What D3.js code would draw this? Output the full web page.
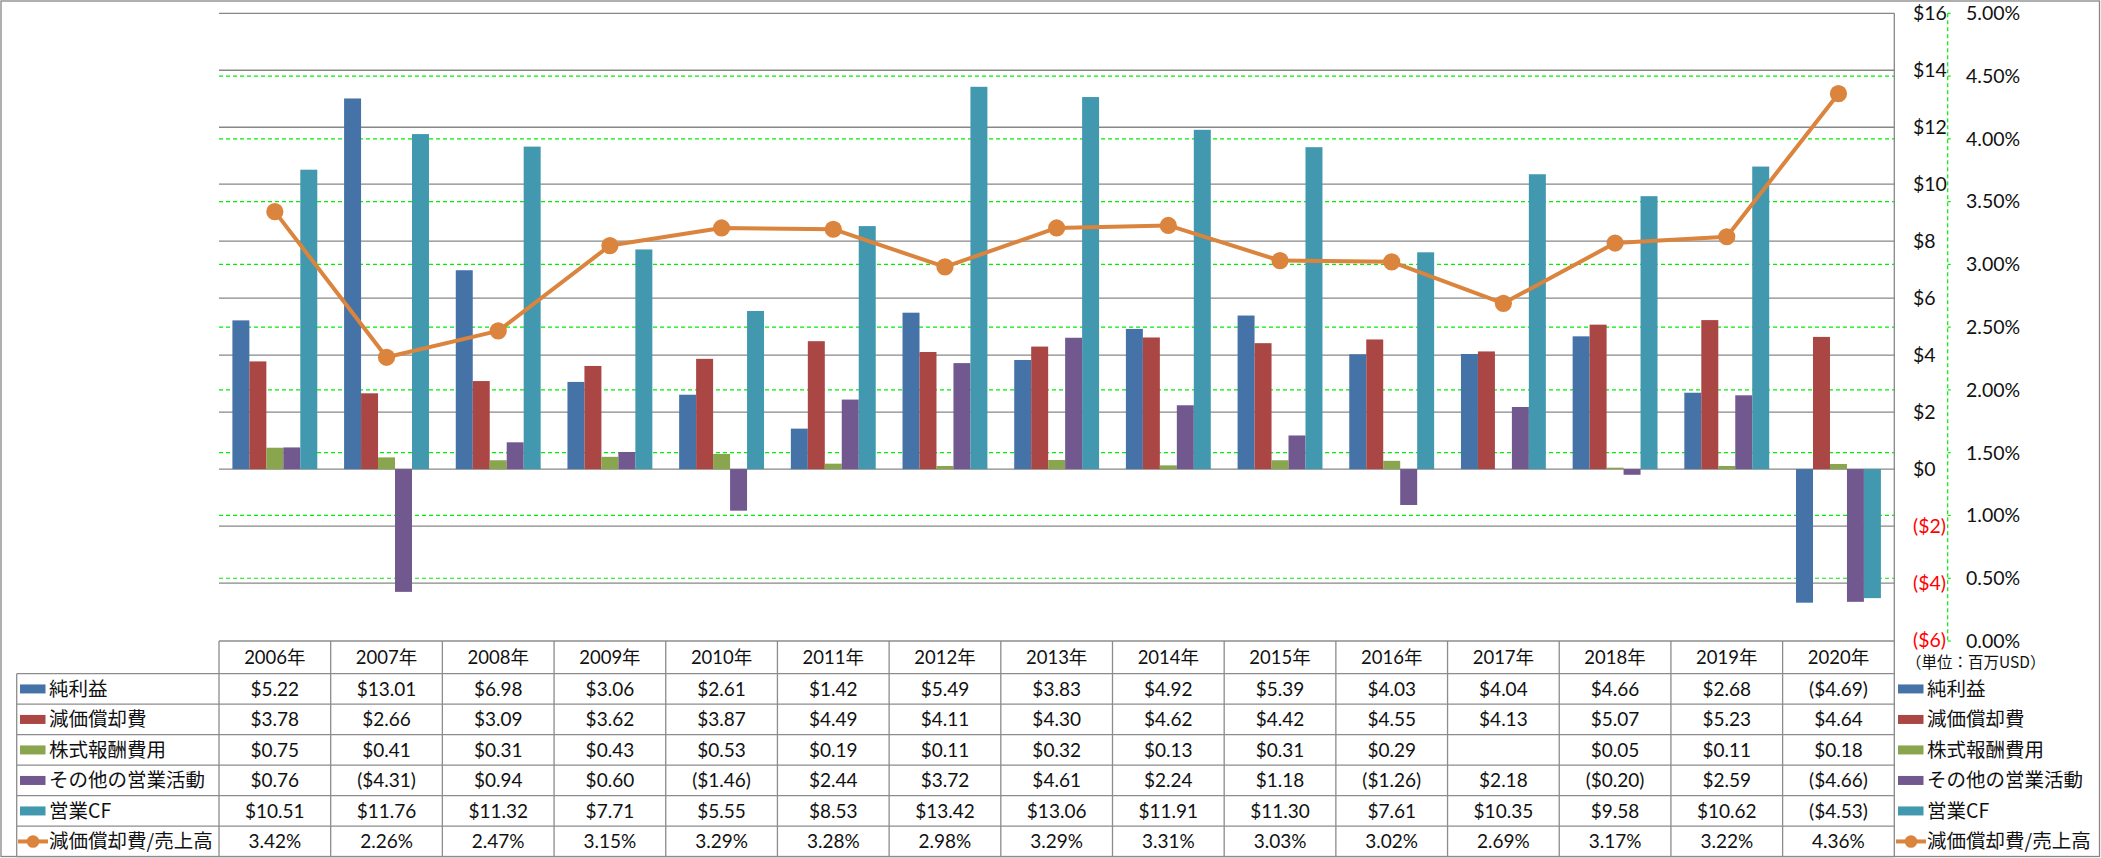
<!DOCTYPE html>
<html>
<head>
<meta charset="utf-8">
<script src="https://cdn.jsdelivr.net/npm/d3@7"></script>
<style>
html,body{margin:0;padding:0;background:#fff;}
svg{display:block;}
</style>
</head>
<body>
<svg id="chart" width="2101" height="858"></svg>
<script>
// ---- data ----
const years = ["2006年","2007年","2008年","2009年","2010年","2011年","2012年","2013年","2014年","2015年","2016年","2017年","2018年","2019年","2020年"];
const seriesNames = ["純利益","減価償却費","株式報酬費用","その他の営業活動","営業CF"];
const netIncome   = [5.22,13.01,6.98,3.06,2.61,1.42,5.49,3.83,4.92,5.39,4.03,4.04,4.66,2.68,-4.69];
const depreciation= [3.78,2.66,3.09,3.62,3.87,4.49,4.11,4.30,4.62,4.42,4.55,4.13,5.07,5.23,4.64];
const stockComp   = [0.75,0.41,0.31,0.43,0.53,0.19,0.11,0.32,0.13,0.31,0.29,null,0.05,0.11,0.18];
const otherOps    = [0.76,-4.31,0.94,0.60,-1.46,2.44,3.72,4.61,2.24,1.18,-1.26,2.18,-0.20,2.59,-4.66];
const operatingCF = [10.51,11.76,11.32,7.71,5.55,8.53,13.42,13.06,11.91,11.30,7.61,10.35,9.58,10.62,-4.53];
const lineName = "減価償却費/売上高";
const depRatio    = [3.42,2.26,2.47,3.15,3.29,3.28,2.98,3.29,3.31,3.03,3.02,2.69,3.17,3.22,4.36];
const usdTicks = [16,14,12,10,8,6,4,2,0,-2,-4,-6];
const pctTicks = [5,4.5,4,3.5,3,2.5,2,1.5,1,0.5,0];
const unitLabel = "（単位：百万USD）";

const seriesValues = [netIncome, depreciation, stockComp, otherOps, operatingCF];
const colors = ["#4572A7","#AA4643","#89A54E","#71588F","#4198AF"];
const lineColor = "#DB843D";

// ---- layout ----
const svg = d3.select("#chart");
const L = 219, R = 1894.3, T = 13.3, B = 640;
const numFont = "Lato, 'Noto Sans CJK JP', sans-serif";
const jpFont = "'Noto Sans CJK JP', sans-serif";
const gridGray = "#878787";

const x = d3.scaleBand().domain(years).range([L, R]).padding(0);
const bw = x.bandwidth();
const groupW = bw * 0.76;
const xs = d3.scaleBand().domain(seriesNames).range([(bw - groupW) / 2, (bw + groupW) / 2]).padding(0);
const y = d3.scaleLinear().domain([-6, 16]).range([B, T]);
const yp = d3.scaleLinear().domain([0, 5]).range([B + 1, T]);

// outer border
svg.append("rect").attr("x", 1).attr("y", 1).attr("width", 2098.5).attr("height", 855.5)
  .attr("fill", "none").attr("stroke", "#868686").attr("stroke-width", 1.3);

// gray gridlines (USD axis)
svg.append("g").selectAll("line").data(usdTicks.filter(d => d > -6)).join("line")
  .attr("x1", L).attr("x2", R).attr("y1", d => y(d)).attr("y2", d => y(d))
  .attr("stroke", gridGray).attr("stroke-width", 1.3);

// green dashed gridlines (percent axis)
svg.append("g").selectAll("line").data(pctTicks.filter(d => d > 0 && d < 5)).join("line")
  .attr("x1", L).attr("x2", R).attr("y1", d => yp(d)).attr("y2", d => yp(d))
  .attr("stroke", "#00EE00").attr("stroke-width", 1.2).attr("stroke-dasharray", "4,3");

// plot right border
svg.append("line").attr("x1", R).attr("x2", R).attr("y1", T).attr("y2", 857)
  .attr("stroke", gridGray).attr("stroke-width", 1.3);

// bars
seriesValues.forEach((vals, si) => {
  svg.append("g").selectAll("rect").data(vals.map((v, i) => ({v, yr: years[i]})).filter(d => d.v !== null)).join("rect")
    .attr("x", d => x(d.yr) + xs(seriesNames[si]))
    .attr("width", xs.bandwidth())
    .attr("y", d => y(Math.max(0, d.v)))
    .attr("height", d => Math.abs(y(d.v) - y(0)))
    .attr("fill", colors[si]);
});

// line
const lineGen = d3.line().x((d, i) => x(years[i]) + bw / 2).y(d => yp(d));
svg.append("path").datum(depRatio).attr("d", lineGen)
  .attr("fill", "none").attr("stroke", lineColor).attr("stroke-width", 4).attr("stroke-linejoin", "round");
svg.append("g").selectAll("circle").data(depRatio).join("circle")
  .attr("cx", (d, i) => x(years[i]) + bw / 2).attr("cy", d => yp(d)).attr("r", 8.6)
  .attr("fill", lineColor);

// right USD axis labels
const fmtUsd = v => v < 0 ? "($" + Math.abs(v) + ")" : "$" + v;
svg.append("g").selectAll("text").data(usdTicks).join("text")
  .attr("x", 1913).attr("y", d => y(d)).attr("dy", "0.35em")
  .attr("font-family", numFont).attr("font-size", 19.5)
  .attr("fill", d => d < 0 ? "#FF0000" : "#111")
  .text(fmtUsd);

// percent axis
const PX = 1947.7;
svg.append("line").attr("x1", PX).attr("x2", PX).attr("y1", T).attr("y2", B + 1)
  .attr("stroke", "#00EE00").attr("stroke-width", 1.2).attr("stroke-dasharray", "4,3");
svg.append("g").selectAll("line").data(pctTicks).join("line")
  .attr("x1", PX).attr("x2", PX + 3).attr("y1", d => yp(d)).attr("y2", d => yp(d))
  .attr("stroke", "#00EE00").attr("stroke-width", 1.2);
svg.append("g").selectAll("text").data(pctTicks).join("text")
  .attr("x", 1966).attr("y", d => yp(d)).attr("dy", "0.35em")
  .attr("font-family", numFont).attr("font-size", 19.5).attr("fill", "#111")
  .text(d => d.toFixed(2) + "%");

svg.append("text").attr("x", 1906).attr("y", 663).attr("dy", "0.35em")
  .attr("font-family", jpFont).attr("font-size", 15.5).attr("fill", "#111")
  .text(unitLabel);

// ---- data table ----
const tableTop = 641, headBottom = 673.7, rowH = 30.5, tableBottom = headBottom + rowH * 6;
const labelLeft = 16.7;
const tg = svg.append("g");
const tStroke = "#8c8c8c";
// horizontal lines
tg.append("line").attr("x1", L).attr("x2", R).attr("y1", tableTop).attr("y2", tableTop)
  .attr("stroke", tStroke).attr("stroke-width", 1.3);
d3.range(7).forEach(i => {
  const yy = headBottom + rowH * i;
  tg.append("line").attr("x1", labelLeft).attr("x2", R).attr("y1", yy).attr("y2", yy)
    .attr("stroke", tStroke).attr("stroke-width", 1.3);
});
// vertical lines
tg.append("line").attr("x1", labelLeft).attr("x2", labelLeft).attr("y1", headBottom).attr("y2", tableBottom)
  .attr("stroke", tStroke).attr("stroke-width", 1.3);
tg.selectAll("line.v").data(years).join("line").attr("class", "v")
  .attr("x1", d => x(d)).attr("x2", d => x(d)).attr("y1", tableTop).attr("y2", tableBottom)
  .attr("stroke", tStroke).attr("stroke-width", 1.3);

// year header
tg.selectAll("text.yr").data(years).join("text").attr("class", "yr")
  .attr("x", d => x(d) + bw / 2).attr("y", (tableTop + headBottom) / 2).attr("dy", "0.35em")
  .attr("text-anchor", "middle").attr("font-family", numFont).attr("font-size", 18.5).attr("fill", "#111")
  .text(d => d);

const fmtCell = v => v === null ? "" : (v < 0 ? "($" + Math.abs(v).toFixed(2) + ")" : "$" + v.toFixed(2));
const rows = seriesValues.map((vals, si) => ({name: seriesNames[si], color: colors[si], cells: vals.map(fmtCell), line: false}));
rows.push({name: lineName, color: lineColor, cells: depRatio.map(v => v.toFixed(2) + "%"), line: true});

function legendMark(g, x0, cy, row) {
  if (row.line) {
    g.append("line").attr("x1", x0 - 2).attr("x2", x0 + 28).attr("y1", cy).attr("y2", cy)
      .attr("stroke", row.color).attr("stroke-width", 4);
    g.append("circle").attr("cx", x0 + 13).attr("cy", cy).attr("r", 6.3).attr("fill", row.color);
  } else {
    g.append("rect").attr("x", x0).attr("y", cy - 4.5).attr("width", 25.5).attr("height", 9).attr("fill", row.color);
  }
}

rows.forEach((row, ri) => {
  const cy = headBottom + rowH * ri + rowH / 2;
  legendMark(tg, 20, cy, row);
  tg.append("text").attr("x", 49).attr("y", cy).attr("dy", "0.36em")
    .attr("font-family", jpFont).attr("font-size", 19.5).attr("fill", "#111").text(row.name);
  tg.append("g").selectAll("text").data(row.cells).join("text")
    .attr("x", (d, i) => x(years[i]) + bw / 2).attr("y", cy).attr("dy", "0.35em")
    .attr("text-anchor", "middle").attr("font-family", numFont).attr("font-size", 19).attr("fill", "#111")
    .text(d => d);
  // right legend
  legendMark(tg, 1898, cy, row);
  tg.append("text").attr("x", 1927).attr("y", cy).attr("dy", "0.36em")
    .attr("font-family", jpFont).attr("font-size", 19.5).attr("fill", "#111").text(row.name);
});
</script>
</body>
</html>
